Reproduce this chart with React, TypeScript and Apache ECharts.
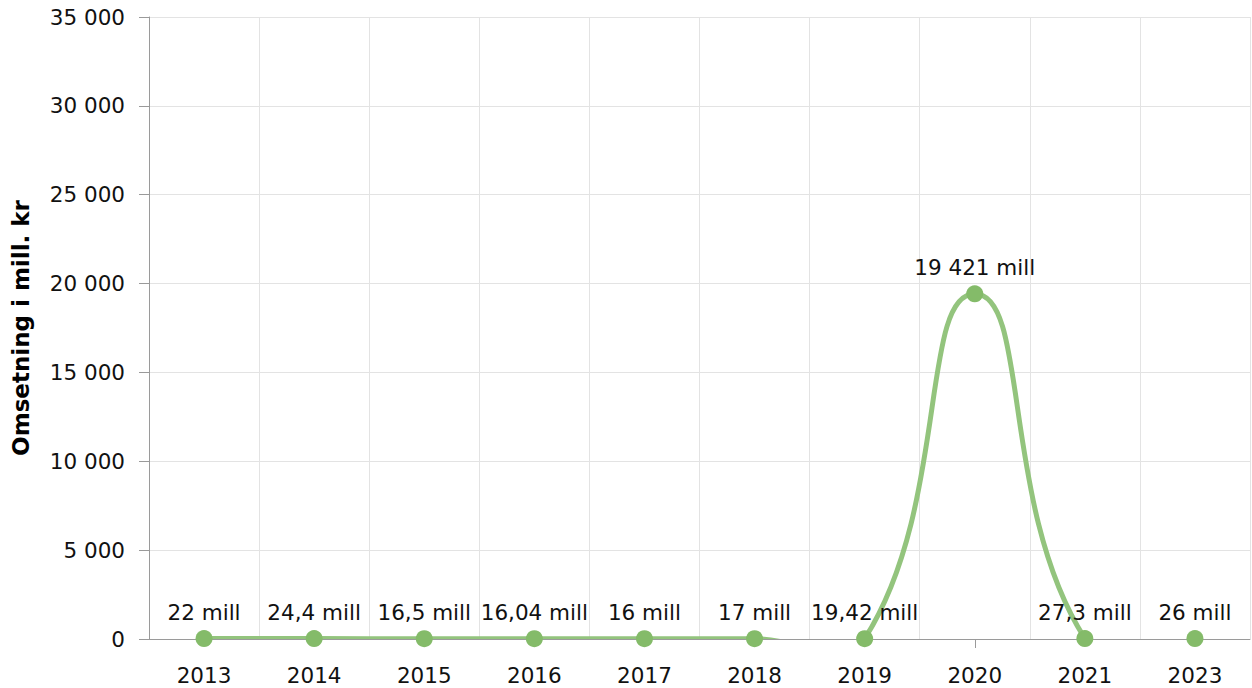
import React, { useEffect, useRef } from "react";
import * as echarts from "echarts";

const years = ["2013", "2014", "2015", "2016", "2017", "2018", "2019", "2020", "2021", "2023"];
const revenue = [22, 24.4, 16.5, 16.04, 16, 17, 19.42, 19421, 27.3, 26];
const tickedYears = ["2020"];
const yAxisName = "Omsetning i mill. kr";
const yMin = 0;
const yMax = 35000;
const yInterval = 5000;

const groupThousands = (s: string) => s.replace(/\B(?=(\d{3})+(?!\d))/g, " ");

const fmtNumber = (v: number) => {
  const parts = String(v).split(".");
  const intPart = groupThousands(parts[0]);
  return parts.length > 1 ? intPart + "," + parts[1] : intPart;
};

const SMOOTH = 0.5;

export default function App() {
  const ref = useRef<HTMLDivElement>(null);
  useEffect(() => {
    document.body.style.margin = "0";
    if (!ref.current) return;
    const chart = echarts.init(ref.current, undefined, { renderer: "svg" });
    const font = "'DejaVu Sans', Verdana, sans-serif";
    const fs = 21.5;
    const lineColor = "#93c47d";

    // unconstrained spline segment between point i and i+1 (overshoot is clipped by the grid)
    const renderSegment = (params: any, api: any) => {
      const i = params.dataIndex;
      const n = revenue.length;
      if (i >= n - 1) return null;
      const pts = revenue.map((v, j) => api.coord([j, v]));
      const cpAfter = (k: number) => {
        if (k === 0) return pts[0];
        const p = pts[k], pr = pts[k - 1], nx = pts[k + 1];
        const vx = nx[0] - pr[0], vy = nx[1] - pr[1];
        const lp = Math.hypot(p[0] - pr[0], p[1] - pr[1]);
        const ln = Math.hypot(nx[0] - p[0], nx[1] - p[1]);
        const r = ln / (ln + lp);
        return [p[0] + vx * SMOOTH * r, p[1] + vy * SMOOTH * r];
      };
      const cpBefore = (k: number) => {
        if (k === n - 1) return pts[k];
        const p = pts[k], pr = pts[k - 1], nx = pts[k + 1];
        const vx = nx[0] - pr[0], vy = nx[1] - pr[1];
        const lp = Math.hypot(p[0] - pr[0], p[1] - pr[1]);
        const ln = Math.hypot(nx[0] - p[0], nx[1] - p[1]);
        const r = ln / (ln + lp);
        return [p[0] - vx * SMOOTH * (1 - r), p[1] - vy * SMOOTH * (1 - r)];
      };
      const a = pts[i], b = pts[i + 1];
      const c1 = cpAfter(i), c2 = cpBefore(i + 1);
      const d = `M${a[0]} ${a[1]} C${c1[0]} ${c1[1]} ${c2[0]} ${c2[1]} ${b[0]} ${b[1]}`;
      return {
        type: "path",
        shape: { pathData: d },
        style: { fill: "none", stroke: lineColor, lineWidth: 5, lineCap: "round" },
      };
    };

    chart.setOption({
      animation: false,
      textStyle: { fontFamily: font },
      grid: { left: 149, right: 2, top: 17, bottom: 49, containLabel: false },
      xAxis: {
        type: "category",
        data: years,
        boundaryGap: true,
        axisLine: { show: true, lineStyle: { color: "#9a9a9a", width: 1 } },
        axisTick: {
          show: true,
          alignWithLabel: true,
          length: 9,
          interval: (_i: number, v: string) => tickedYears.includes(v),
          lineStyle: { color: "#9a9a9a", width: 1 },
        },
        axisLabel: { color: "#111", fontSize: fs, margin: 25, fontFamily: font, interval: 0 },
        splitLine: { show: true, interval: 0, lineStyle: { color: "#e3e3e3", width: 1 } },
      },
      yAxis: {
        type: "value",
        min: yMin,
        max: yMax,
        interval: yInterval,
        name: yAxisName,
        nameLocation: "middle",
        nameGap: 117,
        nameTextStyle: { color: "#000", fontSize: 23, fontWeight: "bold", fontFamily: font },
        axisLine: { show: true, lineStyle: { color: "#9a9a9a", width: 1 } },
        axisTick: { show: true, length: 10, lineStyle: { color: "#9a9a9a" } },
        axisLabel: {
          color: "#111",
          fontSize: fs,
          margin: 24,
          fontFamily: font,
          formatter: (v: number) => fmtNumber(v),
        },
        splitLine: { show: true, lineStyle: { color: "#e3e3e3", width: 1 } },
      },
      series: [
        {
          type: "custom",
          data: revenue,
          clip: true,
          silent: true,
          renderItem: renderSegment,
          z: 2,
        },
        {
          type: "line",
          data: revenue,
          smooth: SMOOTH,
          symbol: "circle",
          symbolSize: 17,
          lineStyle: { color: lineColor, width: 5, opacity: 0 },
          itemStyle: { color: "#84bb69" },
          z: 3,
          label: {
            show: true,
            position: "top",
            distance: 7,
            color: "#111",
            fontSize: fs,
            fontFamily: font,
            formatter: (p: any) => fmtNumber(p.value) + " mill",
          },
        },
      ],
    });
    return () => chart.dispose();
  }, []);
  return <div ref={ref} style={{ width: 1252, height: 688 }} />;
}
